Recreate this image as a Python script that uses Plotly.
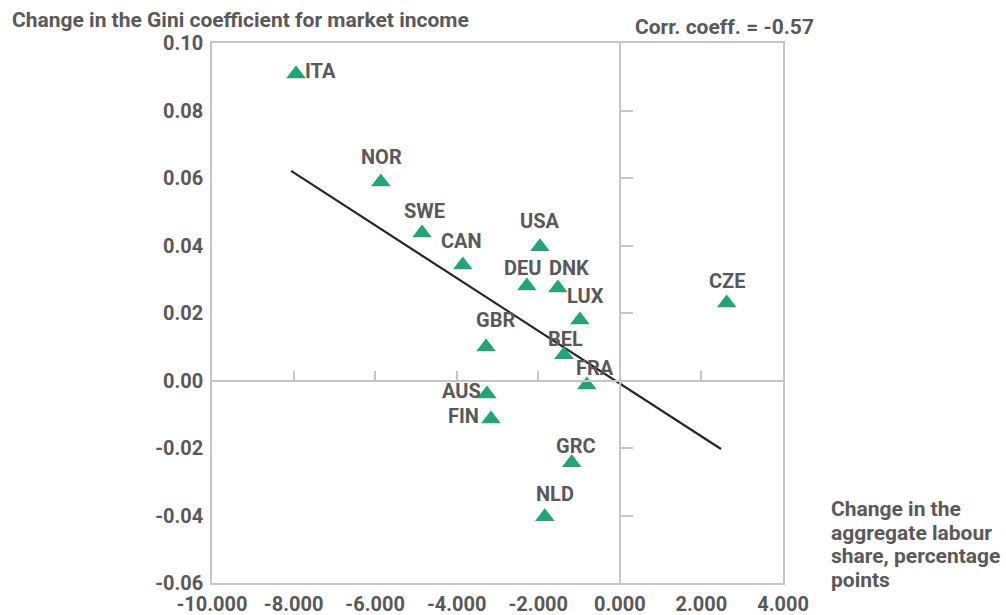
import plotly.graph_objects as go

countries = ["ITA", "NOR", "SWE", "CAN", "USA", "DEU", "DNK", "LUX", "CZE",
             "GBR", "BEL", "FRA", "AUS", "FIN", "GRC", "NLD"]
labour_share_change = [-7.94, -5.86, -4.85, -3.85, -1.96, -2.28, -1.52, -0.98, 2.62,
                       -3.28, -1.37, -0.81, -3.26, -3.16, -1.18, -1.84]
gini_change = [0.0908, 0.0588, 0.0437, 0.0342, 0.0396, 0.0280, 0.0274, 0.0179, 0.0230,
               0.0099, 0.0076, -0.0013, -0.0040, -0.0114, -0.0244, -0.0404]

# fitted line
trend_x = [-8.06, 2.48]
trend_y = [0.0621, -0.0203]

x_ticks = [-10, -8, -6, -4, -2, 0, 2, 4]
x_tick_text = ["-10.000", "-8.000", "-6.000", "-4.000", "-2.000", "0.000", "2.000", "4.000"]
y_ticks = [0.10, 0.08, 0.06, 0.04, 0.02, 0.00, -0.02, -0.04, -0.06]
y_tick_text = ["0.10", "0.08", "0.06", "0.04", "0.02", "0.00", "-0.02", "-0.04", "-0.06"]

# pixel offsets of each country label from its marker (styling only)
label_offset = {
    "ITA": (24, 3), "NOR": (1, 25), "SWE": (2, 22), "CAN": (-1, 24),
    "USA": (0, 26), "DEU": (-4, 18), "DNK": (11, 20), "LUX": (6, 24),
    "CZE": (0, 22), "GBR": (9, 27), "BEL": (2, 16), "FRA": (8, 17),
    "AUS": (-25, 3), "FIN": (-27, 3), "GRC": (4, 17), "NLD": (10, 23),
}

grey = "#595959"
green = "#22a574"
frame = "#c6c6c6"
font_family = "Roboto, Fira Sans, Noto Sans, sans-serif"


def bold(size):
    return dict(size=size, color=grey, family=font_family, weight="bold")


fig = go.Figure()

fig.add_trace(go.Scatter(
    x=trend_x, y=trend_y, mode="lines",
    line=dict(color="#262626", width=2.2),
    hoverinfo="skip", showlegend=False
))

fig.add_trace(go.Scatter(
    x=labour_share_change, y=gini_change,
    mode="markers",
    text=countries,
    marker=dict(symbol="triangle-up", size=17, color=green),
    showlegend=False
))

# empty trace so the axes through the origin get drawn
fig.add_trace(go.Scatter(x=[None], y=[None], xaxis="x2", yaxis="y2", showlegend=False))

annotations = []
for c, x, y in zip(countries, labour_share_change, gini_change):
    dx, dy = label_offset[c]
    annotations.append(dict(
        text=c, x=x, y=y, xref="x", yref="y",
        xanchor="center", yanchor="middle", xshift=dx, yshift=dy,
        showarrow=False, font=bold(20),
    ))

annotations += [
    dict(text="Change in the Gini coefficient for market income",
         xref="paper", yref="paper", x=-202 / 571, y=1.0,
         xanchor="left", yanchor="middle", yshift=23, showarrow=False,
         font=bold(21)),
    dict(text="Corr. coeff. = -0.57",
         xref="paper", yref="paper", x=1.0, y=1.0,
         xanchor="right", yanchor="middle", yshift=16, xshift=33, showarrow=False,
         font=bold(21)),
]

x_title_lines = ["Change in the", "aggregate labour", "share, percentage", "points"]
for i, line in enumerate(x_title_lines):
    annotations.append(dict(
        text=line, xref="paper", yref="paper", x=1.0, y=0.0,
        xanchor="left", yanchor="middle", xshift=46, yshift=74 - i * 23.5,
        showarrow=False, font=bold(21),
    ))

fig.update_layout(
    width=1006, height=615,
    margin=dict(l=212, r=223, t=43, b=32, autoexpand=False),
    plot_bgcolor="white",
    paper_bgcolor="white",
    font=bold(20),
    xaxis=dict(
        range=[-10, 4], tickvals=x_ticks, ticktext=x_tick_text,
        showgrid=False, zeroline=False, automargin=False,
        showline=True, mirror=True, linecolor=frame, linewidth=1.5,
        ticks="", ticklabelstandoff=2,
        tickfont=bold(20),
    ),
    yaxis=dict(
        range=[-0.06, 0.10], tickvals=y_ticks, ticktext=y_tick_text,
        showgrid=False, zeroline=False, automargin=False,
        showline=True, mirror=True, linecolor=frame, linewidth=1.5,
        ticks="", ticklabelstandoff=3,
        tickfont=bold(20),
    ),
    xaxis2=dict(
        overlaying="x", anchor="free", position=0.375, side="bottom",
        range=[-10, 4], dtick=2, tick0=0, automargin=False,
        showgrid=False, zeroline=False, showticklabels=False,
        showline=True, linecolor=frame, linewidth=1.5,
        ticks="inside", ticklen=9, tickcolor=frame, tickwidth=1.5,
    ),
    yaxis2=dict(
        overlaying="y", anchor="free", position=10 / 14, side="left",
        range=[-0.06, 0.10], dtick=0.02, tick0=0, automargin=False,
        showgrid=False, zeroline=False, showticklabels=False,
        showline=True, linecolor=frame, linewidth=1.5,
        ticks="inside", ticklen=12, tickcolor=frame, tickwidth=1.5,
    ),
    annotations=annotations,
)

# drop the default page margin so the figure fills the window without scrollbars
fig.write_html(
    "out.html",
    config={"displayModeBar": False},
    post_script="document.body.style.margin='0';document.body.style.overflow='hidden';",
)
